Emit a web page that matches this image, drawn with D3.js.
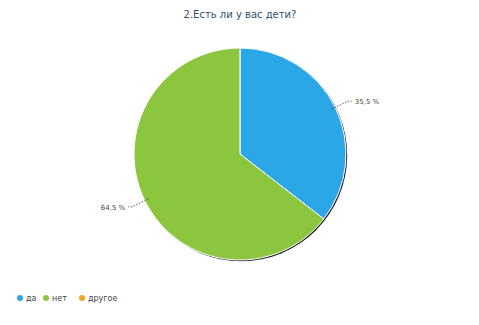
<!DOCTYPE html>
<html><head><meta charset="utf-8">
<script src="https://cdn.jsdelivr.net/npm/d3@7"></script>
<style>body{margin:0;background:#fff}svg{display:block}</style>
</head><body>
<script>
const title = "2.Есть ли у вас дети?";
const categories = ["да", "нет", "другое"];
const values = [35.5, 64.5, 0];
const labels = ["35,5 %", "64,5 %", ""];
const colors = ["#2ba6e6", "#8cc63e", "#f5a623"];

const W = 479, H = 325;
const svg = d3.select("body").append("svg").attr("width", W).attr("height", H);
const font = "'DejaVu Sans', sans-serif";

svg.append("text").attr("x", 240).attr("y", 18).attr("text-anchor", "middle")
  .attr("font-family", font).attr("font-size", 10).attr("fill", "#2f4f6f").text(title);

const cx = 240, cy = 154, r = 106;
const g = svg.append("g").attr("transform", `translate(${cx},${cy})`);
const pie = d3.pie().sort(null).value(d => d)(values);
const arc = d3.arc().innerRadius(0).outerRadius(r);

// shadow edge
g.append("circle").attr("cx", 1.2).attr("cy", 1.2).attr("r", r).attr("fill", "#222");
g.selectAll("path.s").data(pie.filter(d => d.value > 0)).join("path")
  .attr("class", "s").attr("d", arc).attr("fill", (d, i) => colors[d.index])
  .attr("stroke", "#fff").attr("stroke-width", 1);

const inner = d3.arc().innerRadius(r - 4).outerRadius(r - 4);
const outer = d3.arc().innerRadius(r + 14).outerRadius(r + 14);
pie.filter(d => d.value > 0).forEach(d => {
  const mid = (d.startAngle + d.endAngle) / 2;
  const p0 = inner.centroid(d), p1 = outer.centroid(d);
  const right = Math.sin(mid) > 0;
  const p2 = [p1[0] + (right ? 4 : -4), p1[1]];
  g.append("polyline").attr("points", [p0, p1, p2].map(p => p.join(",")).join(" "))
    .attr("fill", "none").attr("stroke", "#333").attr("stroke-width", 0.8).attr("stroke-dasharray", "1.5,1.5");
  g.append("text").attr("x", p2[0] + (right ? 3 : -3)).attr("y", p2[1] + 3)
    .attr("text-anchor", right ? "start" : "end")
    .attr("font-family", font).attr("font-size", 7).attr("fill", "#444").text(labels[d.index]);
});

// legend
const lx = [18, 44, 80];
const lg = svg.append("g");
categories.forEach((c, i) => {
  lg.append("circle").attr("cx", lx[i] + 2).attr("cy", 298).attr("r", 3).attr("fill", colors[i]);
  lg.append("text").attr("x", lx[i] + 8).attr("y", 301).attr("font-family", font)
    .attr("font-size", 8).attr("fill", "#444").text(c);
});
</script>
</body></html>
